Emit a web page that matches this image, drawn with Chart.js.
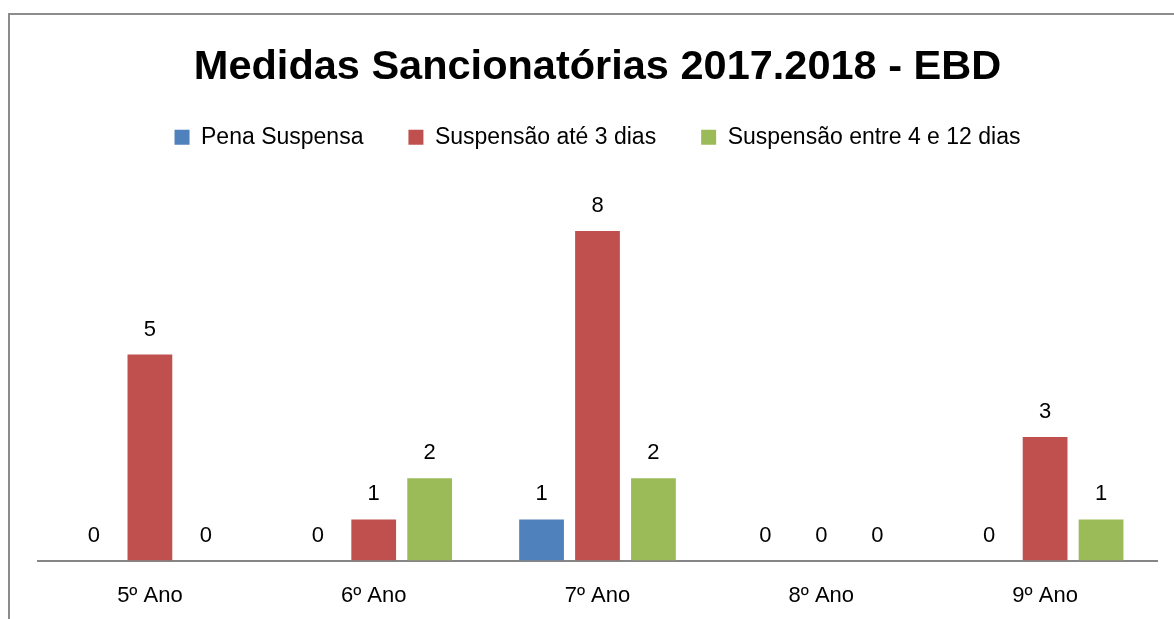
<!DOCTYPE html>
<html>
<head>
<meta charset="utf-8">
<script src="https://cdn.jsdelivr.net/npm/chart.js@4/dist/chart.umd.min.js"></script>
<style>
  html, body { margin: 0; padding: 0; background: #fff; overflow: hidden; }
  #frame { position: absolute; left: 8px; top: 13px; width: 1200px; height: 700px; border: 2px solid #8c8c8c; }
  #wrap { position: absolute; left: 0; top: 0; width: 1174px; height: 644px; }
</style>
</head>
<body>
<div id="frame"></div>
<div id="wrap"><canvas id="chartCanvas" width="1174" height="644"></canvas></div>
<script>
const categories = ["5º Ano", "6º Ano", "7º Ano", "8º Ano", "9º Ano"];
const penaSuspensa = [0, 0, 1, 0, 0];
const suspensaoAte3 = [5, 1, 8, 0, 3];
const suspensao4a12 = [0, 2, 2, 0, 1];

const fontFamily = "'Liberation Sans', Arial, sans-serif";

// value labels above each bar (like Excel data labels)
const valueLabels = {
  id: "valueLabels",
  afterDatasetsDraw(chart) {
    const ctx = chart.ctx;
    ctx.save();
    ctx.font = "22px " + fontFamily;
    ctx.fillStyle = "#000";
    ctx.textAlign = "center";
    ctx.textBaseline = "alphabetic";
    chart.data.datasets.forEach((ds, i) => {
      chart.getDatasetMeta(i).data.forEach((bar, j) => {
        ctx.fillText(String(ds.data[j]), bar.x, bar.y - 19);
      });
    });
    ctx.restore();
  }
};

// extra space below the legend
const legendGap = {
  id: "legendGap",
  beforeInit(chart) {
    const fit = chart.legend.fit;
    chart.legend.fit = function () {
      fit.call(this);
      this.height += 31;
    };
  }
};

new Chart(chartCanvas, {
  type: "bar",
  data: {
    labels: categories,
    datasets: [
      { label: "Pena Suspensa", data: penaSuspensa, backgroundColor: "#4F81BD" },
      { label: "Suspensão até 3 dias", data: suspensaoAte3, backgroundColor: "#C0504D" },
      { label: "Suspensão entre 4 e 12 dias", data: suspensao4a12, backgroundColor: "#9BBB59" }
    ]
  },
  options: {
    responsive: false,
    animation: false,
    categoryPercentage: 0.75,
    barPercentage: 0.8,
    layout: { padding: { left: 38, right: 17, top: 0, bottom: 13 } },
    plugins: {
      title: {
        display: true,
        text: "Medidas Sancionatórias 2017.2018 - EBD",
        color: "#000",
        font: { family: fontFamily, size: 41.5, weight: "bold" },
        padding: { top: 43, bottom: -12 }
      },
      legend: {
        display: true,
        labels: {
          color: "#000",
          font: { family: fontFamily, size: 23 },
          boxWidth: 15,
          boxHeight: 15,
          padding: 45
        }
      },
      tooltip: { enabled: false }
    },
    scales: {
      x: {
        grid: { display: false, drawTicks: false },
        border: { display: true, color: "#868686", width: 2 },
        ticks: { color: "#000", font: { family: fontFamily, size: 22 }, padding: 22 }
      },
      y: {
        display: false,
        min: 0,
        max: 9
      }
    }
  },
  plugins: [valueLabels, legendGap]
});
</script>
</body>
</html>
